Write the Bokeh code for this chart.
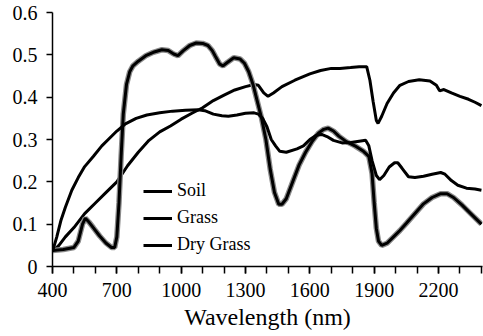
from bokeh.plotting import figure
from bokeh.models import FixedTicker, CustomJSTickFormatter, Legend, LegendItem, Range1d
from bokeh.embed import file_html
from bokeh.resources import INLINE

# Soil spectrum
soil_wl = [400, 430, 460, 500, 550, 600, 650, 700, 750, 800, 850, 900, 950, 1000, 1050,
           1100, 1150, 1200, 1250, 1300, 1340, 1360, 1385, 1405, 1430, 1470, 1530, 1600,
           1650, 1700, 1740, 1790, 1830, 1865, 1880, 1895, 1910, 1918, 1935, 1960, 1990,
           2020, 2060, 2110, 2160, 2190, 2205, 2225, 2260, 2300, 2340, 2370, 2400]
soil_val = [0.035, 0.05, 0.07, 0.092, 0.125, 0.15, 0.175, 0.2, 0.238, 0.27, 0.298, 0.318,
            0.332, 0.348, 0.362, 0.375, 0.392, 0.405, 0.417, 0.425, 0.43, 0.428, 0.41,
            0.402, 0.41, 0.425, 0.44, 0.455, 0.463, 0.468, 0.468, 0.47, 0.472, 0.472, 0.44,
            0.39, 0.345, 0.338, 0.355, 0.385, 0.41, 0.428, 0.437, 0.441, 0.438, 0.428,
            0.415, 0.418, 0.41, 0.402, 0.395, 0.388, 0.38]

# Green grass spectrum
grass_wl = [400, 450, 500, 520, 540, 553, 570, 590, 620, 650, 675, 690, 700, 710, 720, 730,
            745, 760, 775, 800, 835, 870, 910, 940, 965, 985, 1010, 1040, 1070, 1100, 1125,
            1145, 1160, 1180, 1195, 1215, 1245, 1275, 1295, 1315, 1335, 1355, 1375, 1395,
            1415, 1435, 1455, 1470, 1490, 1520, 1550, 1580, 1610, 1640, 1665, 1685, 1710,
            1735, 1770, 1810, 1850, 1875, 1890, 1900, 1910, 1920, 1935, 1960, 1990, 2020,
            2050, 2090, 2130, 2170, 2210, 2240, 2270, 2310, 2350, 2400]
grass_val = [0.038, 0.040, 0.045, 0.06, 0.10, 0.114, 0.105, 0.092, 0.072, 0.055, 0.045,
             0.045, 0.07, 0.15, 0.26, 0.36, 0.43, 0.46, 0.474, 0.485, 0.498, 0.506, 0.512,
             0.510, 0.502, 0.498, 0.510, 0.522, 0.528, 0.527, 0.522, 0.51, 0.496, 0.478,
             0.474, 0.482, 0.493, 0.490, 0.48, 0.46, 0.43, 0.39, 0.35, 0.30, 0.23, 0.175,
             0.147, 0.147, 0.16, 0.20, 0.24, 0.27, 0.295, 0.315, 0.324, 0.327, 0.32, 0.308,
             0.295, 0.285, 0.272, 0.26, 0.22, 0.15, 0.09, 0.06, 0.05, 0.055, 0.07, 0.085,
             0.102, 0.125, 0.148, 0.163, 0.172, 0.172, 0.163, 0.145, 0.125, 0.100]

# Dry grass spectrum
dry_wl = [400, 420, 440, 460, 490, 520, 550, 590, 630, 660, 700, 740, 790, 840, 900, 960,
          1020, 1080, 1110, 1150, 1190, 1220, 1260, 1300, 1340, 1360, 1380, 1400, 1420,
          1440, 1460, 1490, 1540, 1570, 1600, 1630, 1655, 1680, 1710, 1750, 1790, 1830,
          1860, 1875, 1890, 1910, 1925, 1945, 1970, 1995, 2010, 2030, 2060, 2090, 2130,
          2170, 2210, 2230, 2260, 2290, 2330, 2370, 2400]
dry_val = [0.035, 0.07, 0.11, 0.14, 0.18, 0.21, 0.236, 0.26, 0.285, 0.30, 0.32, 0.337,
           0.35, 0.358, 0.363, 0.367, 0.369, 0.370, 0.368, 0.36, 0.356, 0.355, 0.358, 0.362,
           0.363, 0.36, 0.35, 0.33, 0.30, 0.285, 0.272, 0.27, 0.278, 0.285, 0.30, 0.31,
           0.312, 0.307, 0.298, 0.292, 0.293, 0.296, 0.298, 0.285, 0.25, 0.215, 0.205,
           0.215, 0.235, 0.245, 0.245, 0.232, 0.212, 0.21, 0.213, 0.218, 0.222, 0.218,
           0.203, 0.192, 0.185, 0.183, 0.180]

x_major = [400, 700, 1000, 1300, 1600, 1900, 2200]
x_minor = list(range(400, 2500, 100))
y_ticks = [0, 0.1, 0.2, 0.3, 0.4, 0.5, 0.6]

FONT = "Liberation Serif"

p = figure(width=483, height=336, output_backend="svg", toolbar_location=None,
           x_range=Range1d(400, 2405), y_range=Range1d(0, 0.6),
           min_border_left=52, min_border_right=1, min_border_top=12, min_border_bottom=70)
p.outline_line_color = None
p.xgrid.grid_line_color = None
p.ygrid.grid_line_color = None
p.background_fill_color = "white"

r_soil = p.line(soil_wl, soil_val, line_color="black", line_width=3)
p.line(grass_wl, grass_val, line_color="#8a8a8a", line_width=5.5)
r_grass = p.line(grass_wl, grass_val, line_color="black", line_width=3)
r_dry = p.line(dry_wl, dry_val, line_color="black", line_width=3)

xa = p.xaxis[0]
xa.ticker = FixedTicker(ticks=x_major, minor_ticks=x_minor)
xa.major_tick_in = 0
xa.major_tick_out = 7
xa.minor_tick_in = 0
xa.minor_tick_out = 7
xa.minor_tick_line_color = "black"
xa.major_tick_line_width = 1.5
xa.minor_tick_line_width = 1.5
xa.axis_line_width = 1.5
xa.major_label_text_font = FONT
xa.major_label_text_font_size = "20px"
xa.major_label_text_font_style = "normal"
xa.major_label_text_color = "black"
xa.major_label_standoff = 9
xa.axis_label = "Wavelength (nm)"
xa.axis_label_text_font = FONT
xa.axis_label_text_font_size = "24px"
xa.axis_label_text_font_style = "normal"
xa.axis_label_text_color = "black"
xa.axis_label_standoff = 4

ya = p.yaxis[0]
ya.ticker = FixedTicker(ticks=y_ticks, minor_ticks=[])
ya.formatter = CustomJSTickFormatter(code="return tick == 0 ? '0' : tick.toFixed(1);")
ya.major_tick_in = 0
ya.major_tick_out = 6
ya.minor_tick_line_color = None
ya.major_tick_line_width = 1.5
ya.axis_line_width = 1.5
ya.major_label_text_font = FONT
ya.major_label_text_font_size = "20px"
ya.major_label_text_font_style = "normal"
ya.major_label_text_color = "black"
ya.major_label_standoff = 9

legend = Legend(items=[LegendItem(label="Soil", renderers=[r_soil]),
                       LegendItem(label="Grass", renderers=[r_grass]),
                       LegendItem(label="Dry Grass", renderers=[r_dry])],
                location=(91, 11))
legend.border_line_color = None
legend.background_fill_alpha = 0
legend.padding = 0
legend.margin = 0
legend.spacing = 6
legend.glyph_width = 29
legend.glyph_height = 20
legend.label_height = 20
legend.label_standoff = 5
legend.label_text_font = FONT
legend.label_text_font_size = "18px"
legend.label_text_color = "black"
p.add_layout(legend, "center")

open("out.html", "w").write(file_html(p, INLINE))
